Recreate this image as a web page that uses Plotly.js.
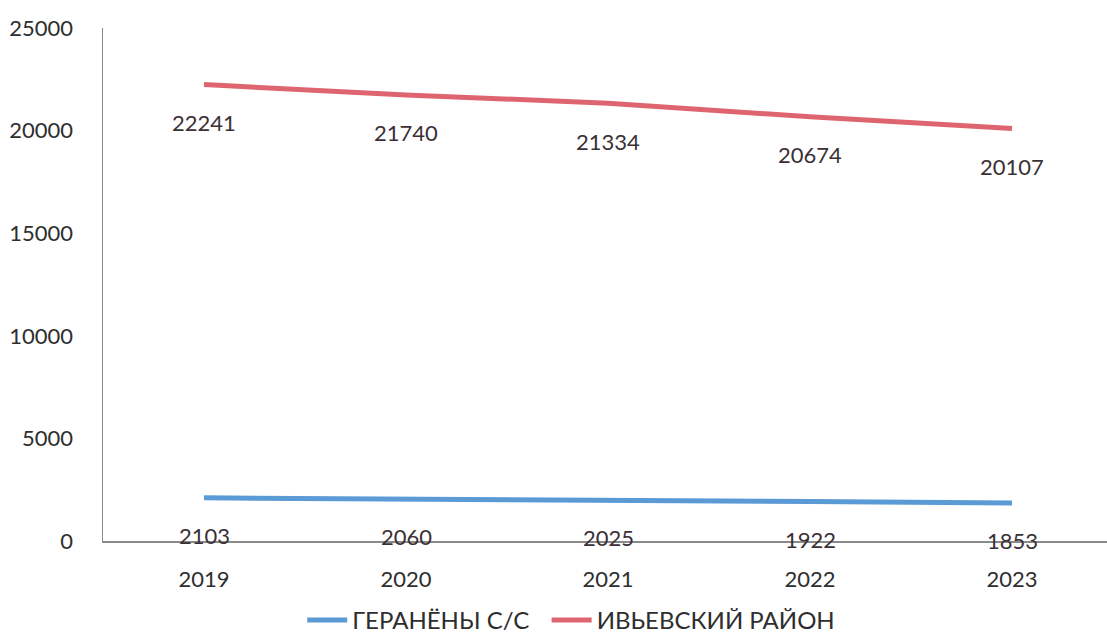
<!DOCTYPE html>
<html>
<head>
<meta charset="utf-8">
<script src="https://cdn.plot.ly/plotly-3.0.1.min.js"></script>
<style>html,body{margin:0;padding:0;background:#fff;}#chart{width:1107px;height:643px;}</style>
</head>
<body>
<div id="chart"></div>
<script>
const years = ["2019", "2020", "2021", "2022", "2023"];
const geranenyValues = [2103, 2060, 2025, 1922, 1853];
const ivyeValues = [22241, 21740, 21334, 20674, 20107];
const seriesNames = ["ГЕРАНЁНЫ С/С", "ИВЬЕВСКИЙ РАЙОН"];
const yTicks = [0, 5000, 10000, 15000, 20000, 25000];

const fontFamily = "Lato, 'Open Sans', sans-serif";
const textColor = "#2e2e2e";

const traces = [
  {x: years, y: geranenyValues, name: seriesNames[0] + "\u00a0\u00a0", type: "scatter", mode: "lines",
   line: {color: "#5B9BD5", width: 5}},
  {x: years, y: ivyeValues, name: seriesNames[1], type: "scatter", mode: "lines",
   line: {color: "#DE6570", width: 5}}
];

const annotations = [];
[geranenyValues, ivyeValues].forEach(vals => {
  vals.forEach((v, i) => {
    annotations.push({xref: "x", yref: "y", x: i, y: v, text: String(v), showarrow: false,
      yshift: -38, font: {family: fontFamily, size: 22, color: "#3a3035"}});
  });
});

const layout = {
  width: 1107, height: 643,
  margin: {l: 103, r: 0, t: 28, b: 102},
  paper_bgcolor: "#ffffff", plot_bgcolor: "#ffffff",
  font: {family: fontFamily, size: 22, color: textColor},
  xaxis: {type: "category", range: [-0.5, 4.47], showgrid: false, zeroline: false,
    showline: true, linecolor: "#8a8a8a", linewidth: 1.5, ticks: "",
    ticklabelstandoff: 18, tickfont: {family: fontFamily, size: 22, color: textColor}},
  yaxis: {range: [0, 25000], tickvals: yTicks, tickformat: "d", showgrid: false, zeroline: false,
    showline: true, linecolor: "#8a8a8a", linewidth: 1.5, ticks: "",
    ticklabelstandoff: 24, tickfont: {family: fontFamily, size: 22, color: textColor}},
  showlegend: true,
  legend: {orientation: "h", xref: "container", yref: "container", x: 0.516, xanchor: "center",
    y: -0.012, yanchor: "bottom", font: {family: fontFamily, size: 24, color: textColor},
    itemwidth: 40, tracegroupgap: 0, bgcolor: "rgba(0,0,0,0)"},
  annotations: annotations
};

Plotly.newPlot("chart", traces, layout, {displayModeBar: false, staticPlot: true});
</script>
</body>
</html>
